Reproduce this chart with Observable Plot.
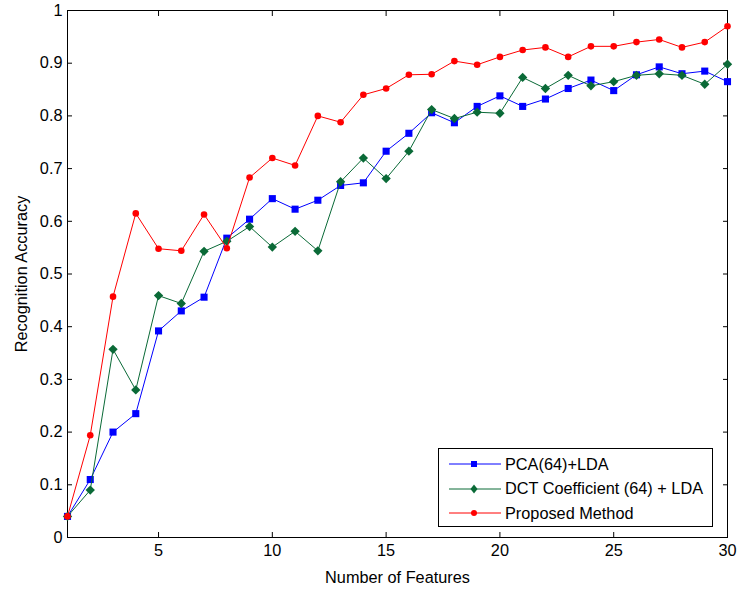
<!DOCTYPE html>
<html><head><meta charset="utf-8">
<script src="https://cdn.jsdelivr.net/npm/d3@7"></script>
<script src="https://cdn.jsdelivr.net/npm/@observablehq/plot@0.6"></script>
<style>
body{margin:0;background:#fff;}
#wrap{position:relative;width:738px;height:589px;font-family:"Liberation Sans",Arial,sans-serif;}
#legend{position:absolute;left:438px;top:448px;width:273px;height:77px;border:1px solid #000;background:#fff;}
#legend .row{position:absolute;left:0;height:24px;display:flex;align-items:center;font-size:16.3px;color:#000;white-space:nowrap;}
#legend svg{display:block;margin-left:10px;margin-right:4px;}
</style>
</head><body><div id="wrap"></div>
<script>
const features = [1,2,3,4,5,6,7,8,9,10,11,12,13,14,15,16,17,18,19,20,21,22,23,24,25,26,27,28,29,30];
const pcaLda = [0.04,0.11,0.20,0.235,0.392,0.430,0.456,0.568,0.604,0.643,0.623,0.640,0.668,0.673,0.733,0.767,0.806,0.787,0.818,0.838,0.818,0.832,0.852,0.868,0.848,0.878,0.893,0.880,0.885,0.865];
const dctLda = [0.04,0.09,0.357,0.28,0.459,0.444,0.543,0.562,0.590,0.551,0.581,0.544,0.675,0.720,0.681,0.733,0.812,0.795,0.807,0.805,0.873,0.852,0.877,0.857,0.865,0.877,0.880,0.877,0.860,0.898];
const proposed = [0.04,0.194,0.457,0.615,0.548,0.544,0.613,0.549,0.683,0.720,0.706,0.800,0.788,0.840,0.852,0.878,0.879,0.904,0.897,0.912,0.925,0.930,0.912,0.932,0.932,0.940,0.945,0.930,0.940,0.970];
const seriesNames = ["PCA(64)+LDA","DCT Coefficient (64) + LDA","Proposed Method"];
const xTicks = [5,10,15,20,25,30];
const yTicks = [0,0.1,0.2,0.3,0.4,0.5,0.6,0.7,0.8,0.9,1];
const yTickLabels = ["0","0.1","0.2","0.3","0.4","0.5","0.6","0.7","0.8","0.9","1"];

const colors = ["#0000ff","#0a6a37","#ff0000"];
const symbols = ["square","diamond2","circle"];
const radii = [4,4.2,3.3];
const allVals = [pcaLda, dctLda, proposed];

const marks = [];
allVals.forEach((vals, k) => {
  const rows = features.map((f, i) => ({f, v: vals[i]}));
  marks.push(Plot.line(rows, {x: "f", y: "v", stroke: colors[k], strokeWidth: 1}));
  marks.push(Plot.dot(rows, {x: "f", y: "v", symbol: symbols[k], r: radii[k], fill: colors[k], stroke: "none"}));
});

const chart = Plot.plot({
  width: 738, height: 589,
  marginLeft: 67, marginRight: 11, marginTop: 10, marginBottom: 52,
  style: {fontSize: "16.3px", fontFamily: "'Liberation Sans', Arial, sans-serif", background: "white", color: "black", overflow: "visible"},
  x: {domain: [1, 30]},
  y: {domain: [0, 1]},
  marks: [
    Plot.frame({stroke: "black", strokeWidth: 1}),
    Plot.axisX(xTicks, {anchor: "bottom", tickSize: 0, tickPadding: 7, label: "Number of Features", labelAnchor: "center", labelArrow: "none", labelOffset: 45}),
    Plot.axisX(xTicks, {anchor: "bottom", tickSize: -5, tickFormat: () => "", label: null}),
    Plot.axisX(xTicks, {anchor: "top", tickSize: -5, tickFormat: () => "", label: null}),
    Plot.axisY(yTicks, {anchor: "left", tickSize: 0, tickPadding: 5, tickFormat: (d) => yTickLabels[yTicks.indexOf(d)], label: "Recognition Accuracy", labelAnchor: "center", labelArrow: "none", labelOffset: 52}),
    Plot.axisY(yTicks, {anchor: "left", tickSize: -5, tickFormat: () => "", label: null}),
    Plot.axisY(yTicks, {anchor: "right", tickSize: -5, tickFormat: () => "", label: null}),
    ...marks
  ]
});
const wrap = document.getElementById("wrap");
wrap.appendChild(chart);

const legend = document.createElement("div");
legend.id = "legend";
const legendMarkers = [
  '<rect x="22" y="4" width="6" height="6" fill="COLOR"/>',
  '<path d="M25 2.5 L28.5 7 L25 11.5 L21.5 7 Z" fill="COLOR"/>',
  '<circle cx="25" cy="7" r="3" fill="COLOR"/>'
];
seriesNames.forEach((name, k) => {
  const row = document.createElement("div");
  row.className = "row";
  row.style.top = (3 + k * 24.5) + "px";
  row.innerHTML = '<svg width="52" height="14"><line x1="0" y1="7" x2="52" y2="7" stroke="' + colors[k] + '" stroke-width="1"/>' +
    legendMarkers[k].replace("COLOR", colors[k]) + '</svg><span>' + name + '</span>';
  legend.appendChild(row);
});
wrap.appendChild(legend);
</script>
</body></html>
